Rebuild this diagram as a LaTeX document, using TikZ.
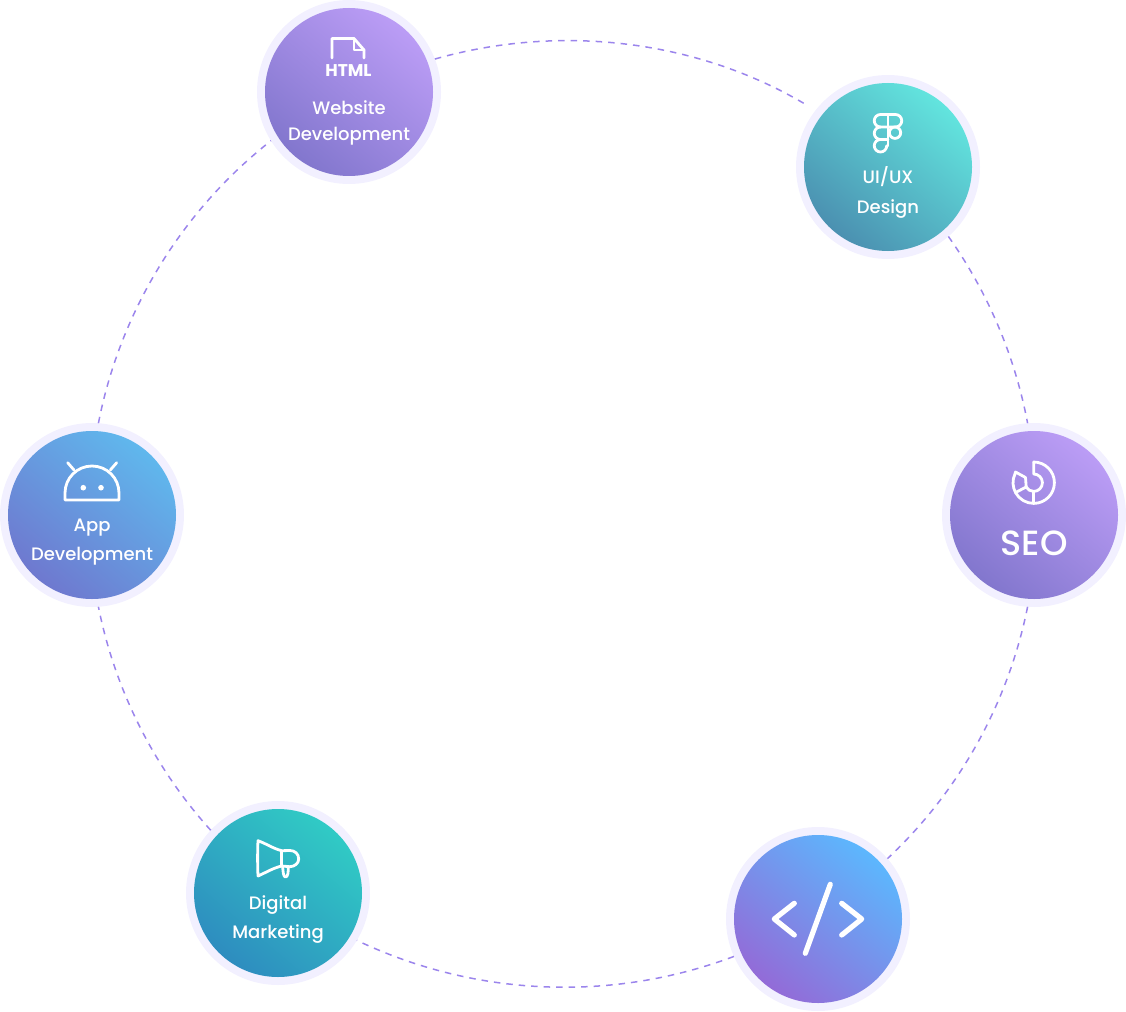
\documentclass[tikz,border=0pt]{standalone}
\usepackage{fontspec}
\setmainfont{Poppins}
\newfontfamily\labelfont{Poppins Medium}[BoldFont={Poppins Bold}]
\definecolor{ringc}{HTML}{F2F0FF}
\definecolor{dashc}{HTML}{9B85EC}
\definecolor{purA}{HTML}{8075CC}\definecolor{purB}{HTML}{BD9EF7}
\definecolor{tealA}{HTML}{4A8DAF}\definecolor{tealB}{HTML}{63E8E0}
\definecolor{blueA}{HTML}{6F76CE}\definecolor{blueB}{HTML}{5FBAEE}
\definecolor{seaA}{HTML}{2E8ABF}\definecolor{seaB}{HTML}{30CDC5}
\definecolor{codeA}{HTML}{9568D6}\definecolor{codeB}{HTML}{5ABAFF}
\newcommand{\mkshade}[3]{\pgfdeclarehorizontalshading{#1}{100bp}{color(0bp)=(#2);color(23bp)=(#2);color(77bp)=(#3);color(100bp)=(#3)}}
\mkshade{grpur}{purA}{purB}
\mkshade{grteal}{tealA}{tealB}
\mkshade{grblue}{blueA}{blueB}
\mkshade{grsea}{seaA}{seaB}
\mkshade{grcode}{codeA}{codeB}
\tikzset{
  ring/.style={circle,fill=ringc,minimum size=184pt,inner sep=0pt,outer sep=0pt},
  disc/.style={circle,minimum size=168pt,inner sep=0pt,shading=#1,shading angle=50},
  txt/.style={anchor=base,text=white,inner sep=0pt,font=\labelfont\fontsize{18}{18}\selectfont},
  bigtxt/.style={anchor=base,text=white,inner sep=0pt,font=\labelfont\fontsize{35}{35}\selectfont},
  htmltxt/.style={anchor=base,text=white,inner sep=0pt,font=\labelfont\bfseries\fontsize{17}{17}\selectfont},
  link/.style={draw=dashc,line width=1.5pt,dash pattern=on 6.5pt off 6pt},
  icon/.style={draw=white,line width=2.8pt,line cap=round,line join=round},
  iconb/.style={draw=white,line width=5.2pt,line cap=round,line join=round},
}
\begin{document}
\begin{tikzpicture}[x=1pt,y=1pt]
\useasboundingbox (0,0) rectangle (1126,-1011);
% rings
\node[ring] (web) at (349,-92) {};
\node[ring] (ui) at (888,-167) {};
\node[ring] (seo) at (1034,-515) {};
\node[ring] (code) at (818,-919) {};
\node[ring] (dig) at (278,-893) {};
\node[ring] (app) at (92,-515) {};
% connectors
\draw[link,shorten >=8pt] (web.21.33) to[bend left=23.5,looseness=0.890] (ui.142.47);
\draw[link] (ui.-49.5) to[bend left=12.31,looseness=0.861] (seo.94);
\draw[link] (seo.-94.5) to[bend left=17.76,looseness=0.872] (code.41);
\draw[link] (code.-156.5) to[bend left=23,looseness=0.888] (dig.329);
\draw[link] (dig.137.2) to[bend left=15.41,looseness=0.867] (app.274.5);
\draw[link] (app.86.3) to[bend left=20.41,looseness=0.879] (web.212);
% discs
\node[disc=grpur] (webd) at (web) {};
\node[disc=grteal] (uid) at (ui) {};
\node[disc=grpur] (seod) at (seo) {};
\node[disc=grcode] (coded) at (code) {};
\node[disc=grsea] (digd) at (dig) {};
\node[disc=grblue] (appd) at (app) {};
% labels
\node[htmltxt] (htmll) at (348.5,-77) {HTML};
\node[txt] (w1) at (349,-115) {Website};
\node[txt] (w2) at (349,-141) {Development};
\node[txt] (u1) at (888,-183.3) {UI/UX};
\node[txt] (u2) at (888,-213.3) {Design};
\node[bigtxt] (s1) at (1034,-555.5) {SEO};
\node[txt] (a1) at (92,-531) {App};
\node[txt] (a2) at (92,-560.7) {Development};
\node[txt] (d1) at (278,-909.5) {Digital};
\node[txt] (d2) at (278,-938.7) {Marketing};
% html icon
\draw[icon] (332,-58) -- (332,-38.5) -- (354,-38.5) -- (364,-50) -- (364,-58);
\draw[icon] (354,-38.5) -- (354,-50) -- (364,-50);
% figma icon
\draw[icon] (880.5,-114.5) -- (895.5,-114.5) arc[start angle=90,end angle=-90,radius=6.25pt] -- (880.5,-127) arc[start angle=270,end angle=90,radius=6.25pt];
\draw[icon] (880.5,-127) arc[start angle=90,end angle=270,radius=6.25pt] -- (888,-139.5);
\draw[icon] (880.5,-139.5) arc[start angle=90,end angle=270,radius=6.25pt] arc[start angle=-90,end angle=0,radius=6.25pt];
\draw[icon] (888,-114.5) -- (888,-145.75);
\draw[icon] (895,-132.7) circle[radius=5.7pt];
% seo icon
\draw[icon] (1033.7,-462) arc[start angle=90,end angle=-205,radius=20.7pt] -- (1015.5,-472) -- (1025.5,-477.5);
\draw[icon] (1033.7,-462) -- (1033.7,-474) arc[start angle=90,end angle=-150,radius=8.7pt];
\draw[icon] (1025.5,-477.5) -- (1026.2,-487);
\draw[icon] (1033.7,-491.4) -- (1033.7,-503.4);
\draw[icon] (1026.2,-487) -- (1015.5,-492.5);
% android icon
\draw[icon] (65,-500) -- (65,-493) arc[start angle=180,end angle=0,radius=27pt] -- (119,-500) -- cycle;
\draw[icon] (67.7,-462.7) -- (74,-470);
\draw[icon] (116.7,-462.7) -- (110.3,-470);
\fill[white] (83.3,-487.7) circle[radius=2.8pt] (101,-487.7) circle[radius=2.8pt];
% megaphone icon
\draw[icon] (281.7,-850.7) .. controls (273,-848.5) and (266,-843.5) .. (258,-840.7) .. controls (257.5,-850) and (257.5,-866) .. (258,-876) .. controls (266,-872.5) and (273,-868) .. (281.7,-866) -- (290,-866.7) .. controls (295,-866.5) and (298.7,-863) .. (298.7,-859) .. controls (298.7,-854) and (295,-850.5) .. (290,-850.5) -- cycle;
\draw[icon] (281.7,-850.7) -- (281.7,-866);
\draw[icon] (282.7,-867) .. controls (283,-872) and (283.5,-877) .. (285.5,-877) .. controls (288,-877) and (288.3,-872) .. (288.3,-867);
% code icon
\draw[iconb] (794.3,-903.3) -- (774.3,-919) -- (794.3,-935);
\draw[iconb] (841.7,-903.3) -- (861.7,-919) -- (841.7,-935);
\draw[iconb] (830.3,-884.3) -- (805.3,-953.3);
\end{tikzpicture}
\end{document}
